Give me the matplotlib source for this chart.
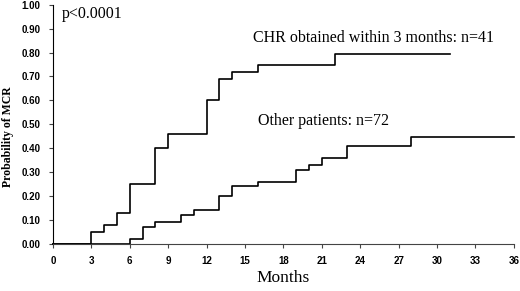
import matplotlib
matplotlib.use('Agg')
import matplotlib.pyplot as plt

# cumulative probability of MCR (step after each time)
CHR_MONTHS = [0, 3, 4, 5, 6, 8, 9, 12, 13, 14, 16, 22, 31]
CHR_PROB = [0.0, 0.05, 0.08, 0.13, 0.25, 0.40, 0.46, 0.60, 0.69, 0.72, 0.75, 0.795, 0.795]

OTHER_MONTHS = [0, 6, 7, 8, 10, 11, 13, 14, 16, 19, 20, 21, 23, 28, 36]
OTHER_PROB = [0.0, 0.02, 0.07, 0.09, 0.12, 0.14, 0.20, 0.24, 0.26, 0.31, 0.33, 0.36, 0.41, 0.445, 0.445]

X_TICKS = list(range(0, 37, 3))
Y_TICKS = [i / 10 for i in range(11)]

fig = plt.figure(figsize=(5.2, 2.91), dpi=100)
ax = fig.add_axes([0.102, 0.1625, 0.886, 0.821])

ax.plot(CHR_MONTHS, CHR_PROB, drawstyle='steps-post', color='black', linewidth=1.2, clip_on=False)
ax.plot(OTHER_MONTHS, OTHER_PROB, drawstyle='steps-post', color='black', linewidth=1.2, clip_on=False)

serif = 'Liberation Serif'
ax.text(0.7, 0.944, 'p<0.0001', family=serif, fontsize=11.5, va='baseline')
ax.text(15.6, 0.844, 'CHR obtained within 3 months: n=41', family=serif, fontsize=11.5, va='baseline')
ax.text(16.0, 0.497, 'Other patients: n=72', family=serif, fontsize=11.5, va='baseline')

ax.set_xlim((0, 36))
ax.set_ylim((0, 1))
ax.set_xticks(X_TICKS)
ax.set_yticks(Y_TICKS)
ax.set_yticklabels(['%.2f' % y for y in Y_TICKS])
for lab in ax.get_xticklabels() + ax.get_yticklabels():
    lab.set_family('Liberation Sans')
    lab.set_fontweight('bold')
    lab.set_fontsize(7)
ax.tick_params(axis='both', direction='out', length=3, width=0.8, color='#444444')
ax.tick_params(axis='x', pad=6)
ax.tick_params(axis='y', pad=6)

ax.spines['top'].set_visible(False)
ax.spines['right'].set_visible(False)
ax.spines['left'].set_linewidth(0.8)
ax.spines['bottom'].set_linewidth(0.8)
ax.spines['bottom'].set_color('#444444')

ax.set_xlabel('Months', family=serif, fontsize=12.5, labelpad=3)
ax.set_ylabel('Probability of MCR', family=serif, fontsize=8.5, fontweight='bold', labelpad=5)
ax.yaxis.set_label_coords(-0.085, 0.45)

fig.savefig('out.png', dpi=100)
